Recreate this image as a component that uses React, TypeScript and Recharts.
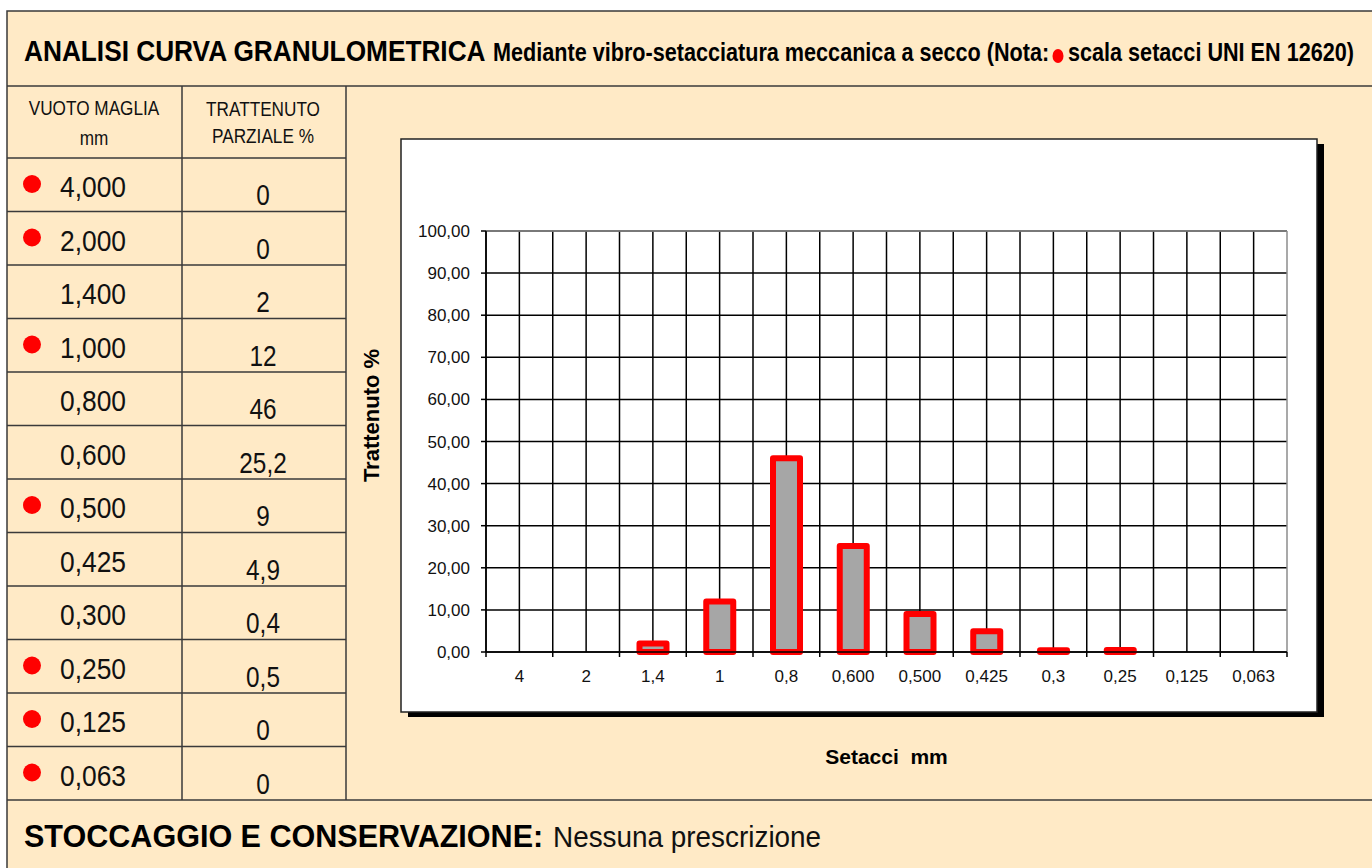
import { Bar, BarChart, CartesianGrid, Label, XAxis, YAxis } from "recharts";

const sieves = ["4", "2", "1,4", "1", "0,8", "0,600", "0,500", "0,425", "0,3", "0,25", "0,125", "0,063"];
const retained = [0, 0, 2, 12, 46, 25.2, 9, 4.9, 0.4, 0.5, 0, 0];
const meshLabels = ["4,000", "2,000", "1,400", "1,000", "0,800", "0,600", "0,500", "0,425", "0,300", "0,250", "0,125", "0,063"];
const retainedLabels = ["0", "0", "2", "12", "46", "25,2", "9", "4,9", "0,4", "0,5", "0", "0"];
const uniSieve = [true, true, false, true, false, false, true, false, false, true, true, true];
const yTicks = [0, 10, 20, 30, 40, 50, 60, 70, 80, 90, 100];

const SANS = "'Liberation Sans', Arial, sans-serif";
const BG = "#FFEAC6";
const RULE = "#3a3a3a";
const ROW_TOP = 158;
const ROW_H = 53.5;

const chartData = sieves.map((s, i) => ({ sieve: s, value: retained[i] }));

const fmt = (v: number) => v.toFixed(2).replace(".", ",");

function SieveTick(props: any) {
  const { x, y, payload, index } = props;
  const half = payload.offset ?? 33.4;
  const axisY = y - 7;
  return (
    <g>
      <line x1={x - half} x2={x - half} y1={axisY} y2={axisY + 5} stroke="#000" strokeWidth={1.5} />
      {index === sieves.length - 1 && (
        <line x1={x + half} x2={x + half} y1={axisY} y2={axisY + 5} stroke="#000" strokeWidth={1.5} />
      )}
      <text x={x} y={axisY + 30} textAnchor="middle" fontSize={17} fontFamily={SANS} fill="#111">
        {payload.value}
      </text>
    </g>
  );
}

function YTitle(props: any) {
  const vb = props.viewBox;
  const cx = vb.x - 45;
  const cy = vb.y + vb.height / 2 - 26;
  return (
    <text
      x={cx}
      y={cy}
      transform={`rotate(-90 ${cx} ${cy})`}
      textAnchor="middle"
      dominantBaseline="central"
      fontSize={22}
      fontWeight="bold"
      fontFamily={SANS}
      fill="#000"
    >
      Trattenuto %
    </text>
  );
}

function XTitle(props: any) {
  const vb = props.viewBox;
  return (
    <text
      x={vb.x + vb.width / 2}
      y={vb.y + 104}
      textAnchor="middle"
      dominantBaseline="central"
      fontSize={21}
      fontWeight="bold"
      fontFamily={SANS}
      fill="#000"
    >
      {"Setacci\u00a0 mm"}
    </text>
  );
}

function Sheet() {
  return (
    <svg width={1372} height={868} style={{ position: "absolute", left: 0, top: 0 }} fontFamily={SANS}>
      <rect x={0} y={0} width={1372} height={868} fill="#fff" />
      <rect x={7} y={11} width={1380} height={870} fill={BG} stroke={RULE} strokeWidth={1.5} />
      <line x1={7} x2={1372} y1={86} y2={86} stroke={RULE} strokeWidth={1.5} />
      <line x1={7} x2={1372} y1={800} y2={800} stroke={RULE} strokeWidth={1.5} />
      <line x1={182} x2={182} y1={86} y2={800} stroke={RULE} strokeWidth={1.5} />
      <line x1={346} x2={346} y1={86} y2={800} stroke={RULE} strokeWidth={1.5} />

      <text transform="translate(24,61) scale(0.875,1)" fontSize={30} fontWeight="bold" fill="#000">
        ANALISI CURVA GRANULOMETRICA
      </text>
      <text transform="translate(493,61) scale(0.865,1)" fontSize={25} fontWeight="bold" fill="#000">
        Mediante vibro-setacciatura meccanica a secco (Nota:
      </text>
      <ellipse cx={1058} cy={56} rx={5.5} ry={7} fill="#FF0000" />
      <text transform="translate(1068,61) scale(0.865,1)" fontSize={25} fontWeight="bold" fill="#000">
        scala setacci UNI EN 12620)
      </text>

      <g fontSize={20} fill="#111" textAnchor="middle">
        <text transform="translate(94,115) scale(0.86,1)">VUOTO MAGLIA</text>
        <text transform="translate(94,145) scale(0.86,1)">mm</text>
        <text transform="translate(263,116) scale(0.86,1)">TRATTENUTO</text>
        <text transform="translate(263,143) scale(0.86,1)">PARZIALE %</text>
      </g>

      {meshLabels.map((m, i) => {
        const top = ROW_TOP + i * ROW_H;
        return (
          <g key={m}>
            <line x1={7} x2={346} y1={top} y2={top} stroke={RULE} strokeWidth={1.5} />
            {uniSieve[i] && <circle cx={32} cy={top + 26} r={9} fill="#FF0000" />}
            <text transform={`translate(60,${top + 39}) scale(0.88,1)`} fontSize={30} fill="#111">
              {m}
            </text>
            <text
              transform={`translate(263,${top + 47}) scale(0.84,1)`}
              fontSize={29}
              fill="#111"
              textAnchor="middle"
            >
              {retainedLabels[i]}
            </text>
          </g>
        );
      })}

      <text transform="translate(24,847) scale(0.955,1)" fontSize={32} fontWeight="bold" fill="#000">
        STOCCAGGIO E CONSERVAZIONE:
      </text>
      <text transform="translate(553,847) scale(0.93,1)" fontSize={30} fill="#111">
        Nessuna prescrizione
      </text>

      <rect x={408} y={144} width={916} height={573} fill="#000" />
      <rect x={401} y={139} width={916} height={573} fill="#fff" stroke="#222" strokeWidth={1.5} />
    </svg>
  );
}

export default function App() {
  return (
    <div style={{ position: "fixed", left: 0, top: 0, width: 1372, height: 868, overflow: "hidden" }}>
      <Sheet />
      <div style={{ position: "absolute", left: 346, top: 86 }}>
        <BarChart width={1026} height={714} data={chartData} margin={{ top: 145, right: 85, bottom: 108, left: 70 }}>
          <CartesianGrid
            stroke="#000"
            strokeWidth={1.5}
            verticalCoordinatesGenerator={({ offset }: any) =>
              Array.from({ length: 24 }, (_, i) => offset.left + (i * offset.width) / 24)
            }
          />
          <CartesianGrid
            stroke="#8c8c8c"
            strokeWidth={1.5}
            horizontalCoordinatesGenerator={({ offset }: any) => [offset.top]}
            verticalCoordinatesGenerator={({ offset }: any) => [offset.left + offset.width]}
          />
          <XAxis
            dataKey="sieve"
            height={40}
            tickSize={5}
            tickMargin={2}
            tickLine={false}
            axisLine={{ stroke: "#000", strokeWidth: 1.5 }}
            tick={<SieveTick />}
            interval={0}
          >
            <Label content={<XTitle />} />
          </XAxis>
          <YAxis
            width={70}
            domain={[0, 100]}
            ticks={yTicks}
            tickFormatter={fmt}
            tickSize={5}
            tickMargin={11}
            tickLine={{ stroke: "#000", strokeWidth: 1.5 }}
            axisLine={{ stroke: "#000", strokeWidth: 1.5 }}
            tick={{ fontSize: 17, fontFamily: SANS, fill: "#111" }}
          >
            <Label content={<YTitle />} />
          </YAxis>
          <Bar
            dataKey="value"
            fill="#A6A6A6"
            stroke="#FF0000"
            strokeWidth={6}
            strokeLinejoin="round"
            barSize={27}
            isAnimationActive={false}
          />
        </BarChart>
      </div>
    </div>
  );
}
